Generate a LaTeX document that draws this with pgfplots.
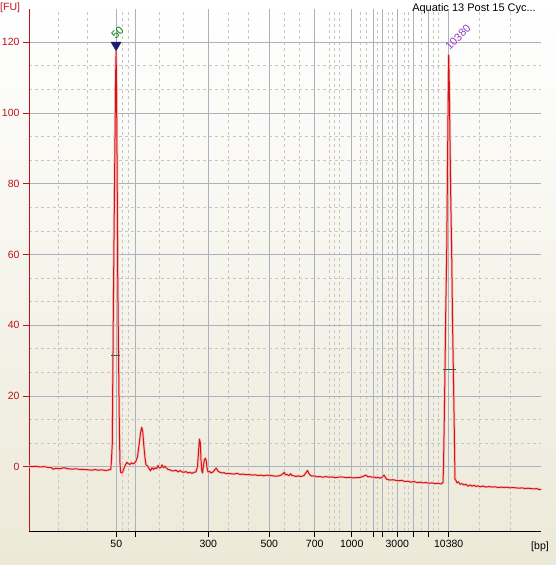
\documentclass[border=0pt]{standalone}
\usepackage{fontspec}
\setmainfont{Liberation Sans}
\usepackage{pgfplots}
\pgfplotsset{compat=1.18}
\definecolor{gridc}{HTML}{AAB2C0}
\definecolor{mgridc}{HTML}{C6C6C6}
\definecolor{bgc}{HTML}{ECE9D8}
\definecolor{axisred}{HTML}{C0141C}
\definecolor{trace}{HTML}{D21414}
\definecolor{halo}{HTML}{F6C4C0}
\definecolor{navy}{HTML}{1C1C70}
\definecolor{grn}{HTML}{0A7A0A}
\definecolor{purp}{HTML}{9A3CC8}
\definecolor{hh}{HTML}{3C5A46}
\pgfplotstableread{
x y
29 0.1
32 0.0
36 0.1
40 -0.1
44 0.0
48 -0.2
51 -0.2
53 -0.7
56 -0.5
60 -0.6
64 -0.3
68 -0.6
72 -0.7
76 -0.6
80 -0.8
84 -0.8
88 -0.9
92 -1.0
95 -0.8
98 -1.0
102 -0.9
106 -1.1
109 -0.9
110.8 -0.8
111.5 2
112.3 6.6
112.8 25
113.3 43
114.2 70
115 93
115.6 110
116.1 117.4
116.6 105
117.2 80
117.7 55
118.2 41
118.8 25
119.4 10
120 1
120.6 -1.5
121.5 -1.8
122.5 -1.6
124 -0.5
125.5 0.6
127 1.2
128.5 0.8
130 0.6
131.5 1.1
133 0.8
134.5 1.0
136 1.6
137.5 2.8
139 6
140.5 9.5
141.7 11.1
142.8 9.8
143.8 6
145 2.5
146 0.5
147.5 0.2
149 -0.5
150.5 -1.2
152 -0.3
153.5 -0.8
155 -0.3
156.5 -0.6
158 0.3
159.5 -0.4
161 -0.2
162 0.5
163.5 -0.3
165 0.1
166.5 -0.4
168 -0.8
170 -0.9
172 -1.2
174 -1.2
176 -1.0
178 -1.5
180 -1.1
182 -1.5
184 -1.6
186 -1.4
188 -1.8
190 -1.6
192 -1.9
194 -1.6
196 -1.5
197.5 0
198.5 4
199.4 7.8
200.3 6.8
201 2
201.8 -1.2
202.6 -1.8
203.5 0.5
204.5 2.0
205.5 2.4
206.3 1.5
207 -0.3
208 -1.5
209.5 -1.3
211 -1.8
213 -1.5
214.5 -1.0
216.3 -0.4
218 -1.3
220 -1.6
222 -1.8
224 -1.7
226 -2.0
228 -1.9
231 -2.0
234 -2.1
237 -1.9
240 -2.2
243 -2.1
246 -2.3
249 -2.2
252 -2.4
255 -2.3
258 -2.5
261 -2.4
264 -2.6
267 -2.4
270 -2.5
273 -2.6
276 -2.7
279 -2.6
281 -2.4
283 -2.0
284.3 -1.6
285.5 -2.3
287 -2.2
289 -2.6
290.5 -2.0
292 -2.5
294 -2.6
296 -2.8
298 -2.6
300 -2.8
302 -2.7
304 -2.5
305.5 -1.9
307.5 -1.1
309 -2.0
310.5 -2.5
312 -2.7
314 -2.6
317 -2.9
320 -2.8
323 -3.0
326 -2.8
329 -3.0
332 -2.9
335 -3.1
338 -3.0
341 -2.9
344 -3.0
347 -3.1
350 -3.0
353 -3.2
356 -3.1
359 -3.1
362 -2.9
364 -2.6
366 -2.4
368 -2.9
370 -2.8
372 -3.0
374 -2.9
376 -3.2
378 -3.0
380 -3.3
382 -3.0
384 -2.4
385.5 -3.1
387 -3.6
390 -3.8
393 -3.7
396 -3.9
399 -4.0
402 -3.9
405 -4.2
408 -4.1
411 -4.4
414 -4.2
417 -4.5
420 -4.4
423 -4.6
426 -4.5
429 -4.7
432 -4.6
435 -4.8
438 -4.7
441 -4.9
443 -4.5
443.5 0
444.2 12
445 27.6
445.8 45
446.7 60
447.5 85
448.2 105
448.7 116.4
449.3 108
450 92
450.8 75
451.7 60
452.5 42
453.3 27.6
454.2 12
455 -3.6
456 -3.9
457 -4.6
458.5 -4.3
460 -5.0
462 -4.8
464 -5.2
466 -5.0
468 -5.5
470 -5.2
472 -5.5
474 -5.3
476 -5.6
478 -5.4
480 -5.7
483 -5.5
486 -5.8
489 -5.6
492 -5.8
495 -5.7
498 -5.9
501 -5.8
504 -5.9
507 -5.8
510 -6.0
513 -5.9
516 -6.0
519 -6.1
522 -6.0
525 -6.2
528 -6.1
531 -6.2
534 -6.3
537 -6.2
539 -6.5
541 -6.4
}\tracedata
\begin{document}
\begin{tikzpicture}[x=1pt,y=1pt]
\useasboundingbox (0,0) rectangle (556,565);
\shade[top color=white, bottom color=bgc] (0,0) rectangle (556,565);
\begin{axis}[
  at={(29pt,34pt)}, anchor=south west, scale only axis,
  width=512pt, height=522pt,
  xmin=29, xmax=541, ymin=-18.2, ymax=129.4,
  clip=false,
  axis x line*=bottom, axis y line*=left,
  x axis line style={black, -, line width=0.9pt},
  y axis line style={axisred, -, line width=0.9pt},
  tick align=outside, major tick length=6pt, minor tick length=0pt,
  xtick style={black, line width=0.8pt},
  ytick style={axisred, line width=0.8pt},
  xtick={116.3,135.3,208.3,269.3,314.7,351.7,373.7,382.3,397.3,413.3,428.3,448.7},
  xticklabels={50,,300,500,700,1000,,,3000,,,10380},
  minor xtick={58.7,87.5,122.7,128.3,159.3,183.5,228.7,248.7,284.7,299.3,329,334,339.3,360,366,377.3,388.7,392.7,404,408.7,421.3,433.3,438,479.3,510},
  ytick={0,20,...,120},
  minor y tick num=2,
  grid=both,
  major grid style={gridc, line width=0.8pt},
  minor grid style={mgridc, dash pattern=on 3pt off 3pt, line width=0.7pt},
  tick label style={font=\fontsize{10.5}{12}\selectfont},
  yticklabel style={axisred},
  xticklabel style={black},
  /pgf/number format/assume math mode=true,
]
\addplot[halo, line width=2.6pt, line join=round] table[x=x,y=y] {\tracedata};
\addplot[trace, line width=1pt, line join=round] table[x=x,y=y] {\tracedata};
% half-height markers
\addplot[hh, line width=1pt] coordinates {(111,31.5)(120,31.5)};
\addplot[hh, line width=1pt] coordinates {(443,27.6)(456,27.6)};
% peak triangle
\addplot[only marks, mark=triangle*, mark size=5.8pt, mark options={navy, rotate=180}] coordinates {(116.1,119.2)};
\node[grn, rotate=45, inner sep=0pt, font=\fontsize{11}{12}\selectfont] at (axis cs:117.5,122.8) {50};
\node[purp, rotate=45, inner sep=0pt, font=\fontsize{11}{12}\selectfont] at (axis cs:458,121.4) {10380};
\end{axis}
\node[anchor=north west, axisred, inner sep=0pt, font=\fontsize{10.5}{12}\selectfont] at (0,562) {[FU]};
\node[anchor=north east, black, inner sep=0pt, font=\fontsize{11}{12}\selectfont] at (536,562) {Aquatic 13 Post 15 Cyc...};
\node[black, inner sep=0pt, font=\fontsize{10.5}{12}\selectfont] at (540,18) {[bp]};
\end{tikzpicture}
\end{document}
